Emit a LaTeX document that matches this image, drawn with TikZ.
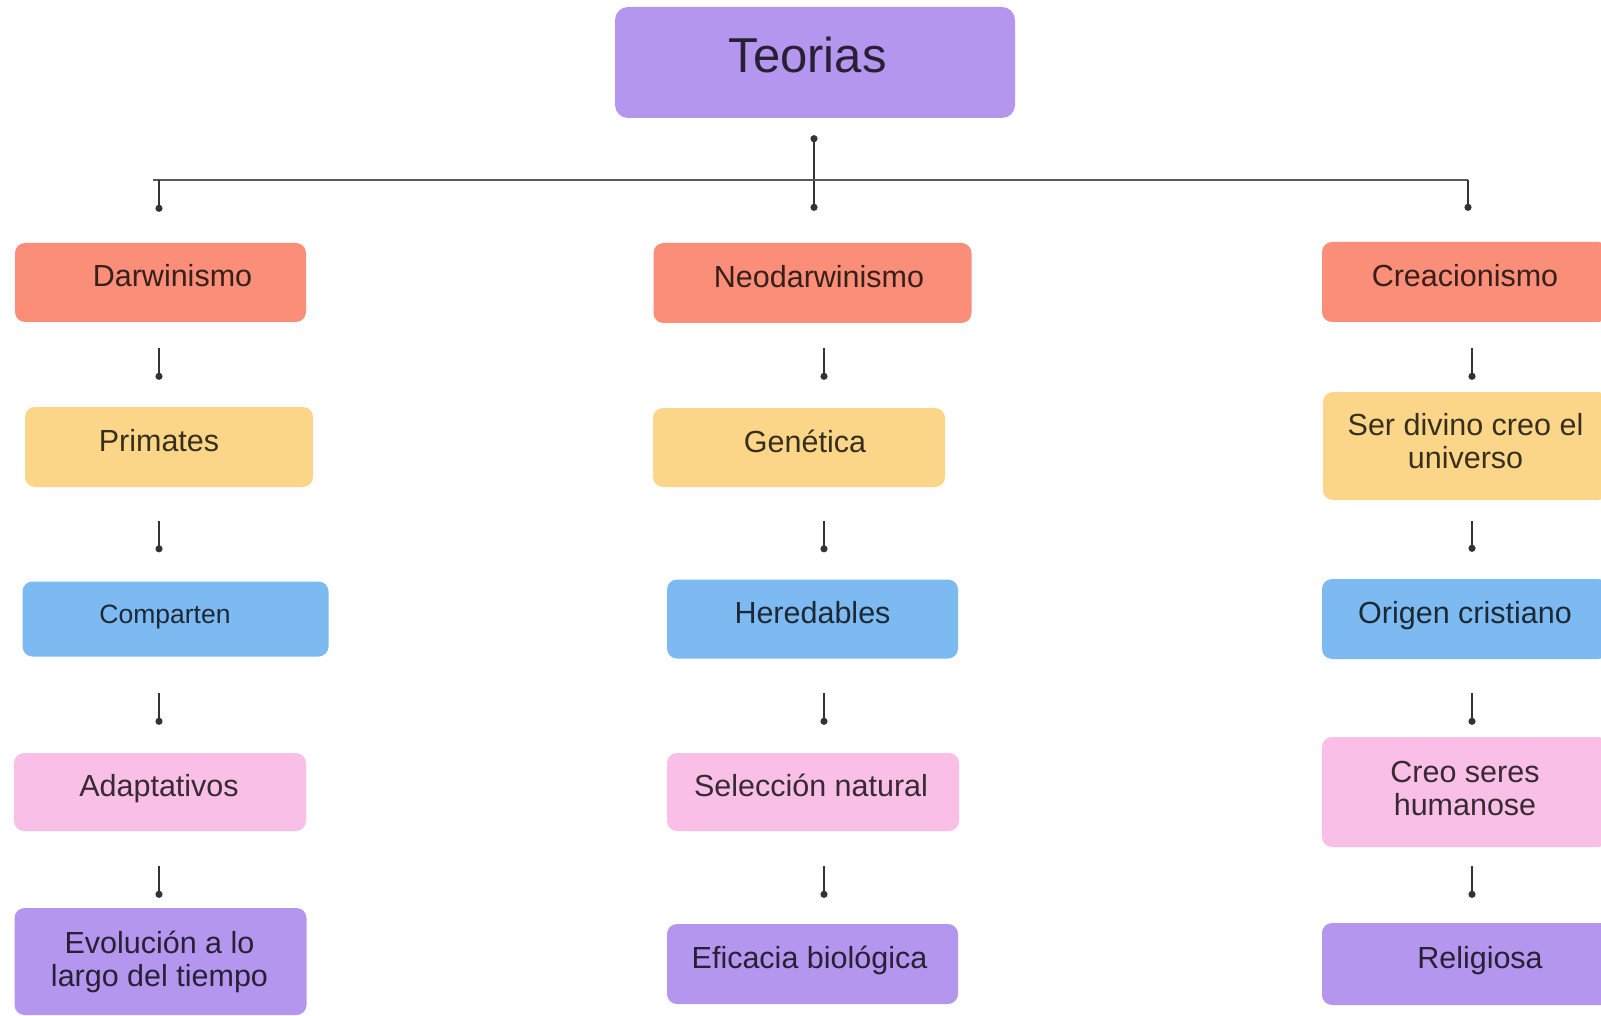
\documentclass[tikz,border=0pt]{standalone}
\usepackage{fontspec}
\setmainfont{Liberation Sans}
\usetikzlibrary{arrows.meta}
\definecolor{csal}{HTML}{FA8E78}
\definecolor{cyel}{HTML}{FCD688}
\definecolor{cblu}{HTML}{7DBAF2}
\definecolor{cpnk}{HTML}{F9BFE6}
\definecolor{cpur}{HTML}{B496EF}
\tikzset{
  box/.style={rounded corners=10pt, inner sep=0pt, font=\fontsize{30.5}{33}\selectfont, text height=21pt, text depth=12pt},
  sal/.style={box, fill=csal, text=csal!22!black},
  yel/.style={box, fill=cyel, text=cyel!22!black},
  blu/.style={box, fill=cblu, text=cblu!22!black},
  pnk/.style={box, fill=cpnk, text=cpnk!22!black},
  pur/.style={box, fill=cpur, text=cpur!22!black},
  conn/.style={draw=black!80, line width=2pt, -{Circle[length=7pt]}},
  bar/.style={draw=black!65, line width=2.5pt},
}
% horizontal text offset (#1 = twice the shift)
\newcommand{\tx}[2]{\hspace*{#1}#2}
% two-line text, baseline at first line
\newcommand{\twol}[2]{\begin{tabular}[t]{@{}c@{}}#1\\#2\end{tabular}}
\newcommand{\vlink}[5]{\draw[conn, shorten <=#4pt, shorten >=#5pt] (#1.south -| #3) -- (#2.north -| #3);}
\begin{document}
\begin{tikzpicture}[x=1pt,y=-1pt]
\clip (0,0) rectangle (1601,1016);
\fill[white] (0,0) rectangle (1601,1016);

% top
\node[pur, rounded corners=13pt, minimum width=400pt, minimum height=111pt, font=\fontsize{49}{52}\selectfont, text height=36pt, text depth=15pt] (teo) at (815,62.5) {\tx{-15pt}{Teorias}};

% left column
\node[sal, minimum width=291pt, minimum height=79pt] (dar) at (160.5,282.5) {\tx{24pt}{Darwinismo}};
\node[yel, minimum width=288pt, minimum height=80pt] (pri) at (169,447) {\tx{-20pt}{Primates}};
\node[blu, minimum width=306pt, minimum height=75pt, font=\fontsize{26.5}{30}\selectfont, text height=19pt, text depth=11pt] (com) at (175.5,619) {\tx{-21pt}{Comparten}};
\node[pnk, minimum width=292pt, minimum height=78pt] (ada) at (160,792) {\tx{-2pt}{Adaptativos}};
\node[pur, minimum width=292pt, minimum height=107pt, text height=20pt, text depth=37pt] (evo) at (160.5,961.5) {\tx{-2pt}{\twol{Evolución a lo}{largo del tiempo}}};

% middle column
\node[sal, minimum width=318pt, minimum height=80pt] (neo) at (812.5,283) {\tx{13pt}{Neodarwinismo}};
\node[yel, minimum width=292pt, minimum height=79pt] (gen) at (799,447.5) {\tx{12pt}{Genética}};
\node[blu, minimum width=291pt, minimum height=79pt] (her) at (812.5,619) {Heredables};
\node[pnk, minimum width=292pt, minimum height=78pt] (sel) at (813,792) {\tx{-4pt}{Selección natural}};
\node[pur, minimum width=291pt, minimum height=80pt] (efi) at (812.5,964) {\tx{-6pt}{Eficacia biológica}};

% right column
\node[sal, minimum width=286pt, minimum height=80pt] (cre) at (1465,282) {Creacionismo};
\node[yel, minimum width=285pt, minimum height=108pt, text height=20pt, text depth=42pt] (ser) at (1465.5,446) {\twol{Ser divino creo el}{universo}};
\node[blu, minimum width=286pt, minimum height=80pt] (ori) at (1465,619) {Origen cristiano};
\node[pnk, minimum width=286pt, minimum height=110pt, text height=20pt, text depth=40pt] (cse) at (1465,792) {\twol{Creo seres}{humanose}};
\node[pur, minimum width=316pt, minimum height=82pt] (rel) at (1480,964) {Religiosa};

% column x positions
\coordinate (cL) at (159,0);
\coordinate (cM) at (824,0);
\coordinate (cR) at (1472,0);
\coordinate (cT) at (814,0);
\coordinate (cRt) at (1468,0);
\coordinate (bL) at (153,180);
\coordinate (bR) at (1468,180);

% top tree
\draw[conn, {Circle[length=7pt]}-{Circle[length=7pt]}, shorten <=17pt, shorten >=32pt] (teo.south -| cT) -- (neo.north -| cT);
\draw[bar] (bL) -- (bR);
\draw[conn, shorten >=31pt] (bL -| cL) -- (dar.north -| cL);
\draw[conn, shorten >=31pt] (bR -| cRt) -- (cre.north -| cRt);

% left links
\vlink{dar}{pri}{cL}{26}{27}
\vlink{pri}{com}{cL}{34}{29}
\vlink{com}{ada}{cL}{36}{28}
\vlink{ada}{evo}{cL}{35}{10}
% middle links
\vlink{neo}{gen}{cM}{25}{28}
\vlink{gen}{her}{cM}{33.5}{27}
\vlink{her}{sel}{cM}{34}{28}
\vlink{sel}{efi}{cM}{35}{26}
% right links
\vlink{cre}{ser}{cR}{26}{12}
\vlink{ser}{ori}{cR}{21}{27}
\vlink{ori}{cse}{cR}{34}{12}
\vlink{cse}{rel}{cR}{19}{25}
\end{tikzpicture}
\end{document}
